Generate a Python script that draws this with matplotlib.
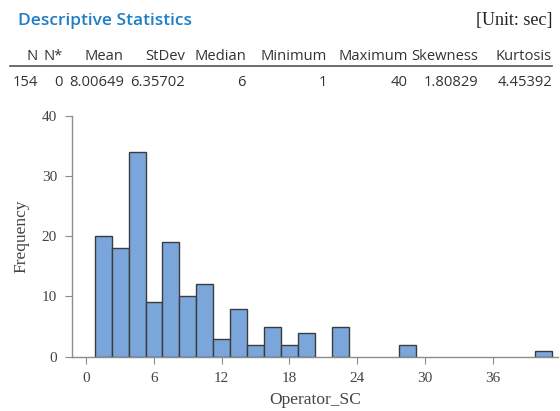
import matplotlib
matplotlib.use("Agg")
import matplotlib.pyplot as plt

# histogram of Operator_SC (bin width 1.5)
bin_centers = [1.5, 3.0, 4.5, 6.0, 7.5, 9.0, 10.5, 12.0, 13.5, 15.0,
               16.5, 18.0, 19.5, 22.5, 28.5, 40.5]
counts = [20, 18, 34, 9, 19, 10, 12, 3, 8, 2, 5, 2, 4, 5, 2, 1]
bin_width = 1.5

x_ticks = [0, 6, 12, 18, 24, 30, 36]
y_ticks = [0, 10, 20, 30, 40]

stat_headers = ["N", "N*", "Mean", "StDev", "Median", "Minimum",
                "Maximum", "Skewness", "Kurtosis"]
stat_values = ["154", "0", "8.00649", "6.35702", "6", "1", "40",
               "1.80829", "4.45392"]
# right edges of table columns, in pixels
col_right_px = [38, 63, 124, 185, 246, 327, 408, 478, 552]

W, H = 560, 411
fig = plt.figure(figsize=(W / 100, H / 100), dpi=100)

sans = ["Open Sans", "DejaVu Sans"]
serif = ["Liberation Serif", "DejaVu Serif"]

fig.text(18 / W, 1 - 21 / H, "Descriptive Statistics", color="#1f7fc4",
         fontsize=12.5, family=sans, fontweight="semibold", va="center",
         ha="left")
fig.text(552 / W, 1 - 21 / H, "[Unit: sec]", color="#222222",
         fontsize=13, family=serif, va="center", ha="right")

for h, v, xr in zip(stat_headers, stat_values, col_right_px):
    fig.text(xr / W, 1 - 56 / H, h, fontsize=10.6, family=sans,
             color="#333333", ha="right", va="center")
    fig.text(xr / W, 1 - 82 / H, v, fontsize=10.6, family=sans,
             color="#333333", ha="right", va="center")
fig.add_artist(plt.Line2D([10 / W, 552 / W], [1 - 66 / H, 1 - 66 / H],
                          color="#555555", lw=1.2))

ax = fig.add_axes([72.3 / W, 1 - 356.7 / H, (558 - 72.3) / W,
                   (356.7 - 115.7) / H])
ax.bar(bin_centers, counts, width=bin_width, color="#7ba6dc",
       edgecolor="#3c3c3c", linewidth=1.0, zorder=2)
ax.set_xlim(-1.24, 41.8)
ax.set_ylim(0, 40)
ax.set_xticks(x_ticks)
ax.set_yticks(y_ticks)
for s in ["top", "right"]:
    ax.spines[s].set_visible(False)
for s in ["left", "bottom"]:
    ax.spines[s].set_color("#8c8c8c")
    ax.spines[s].set_linewidth(1.0)
ax.tick_params(direction="out", length=5, color="#8c8c8c",
               labelcolor="#444444", labelsize=11, pad=6)
for lab in ax.get_xticklabels() + ax.get_yticklabels():
    lab.set_family(serif)
ax.set_xlabel("Operator_SC", family=serif, fontsize=12.5, color="#444444",
              labelpad=5)
ax.set_ylabel("Frequency", family=serif, fontsize=12.5, color="#444444",
              labelpad=9)

fig.savefig("out.png", dpi=100)
